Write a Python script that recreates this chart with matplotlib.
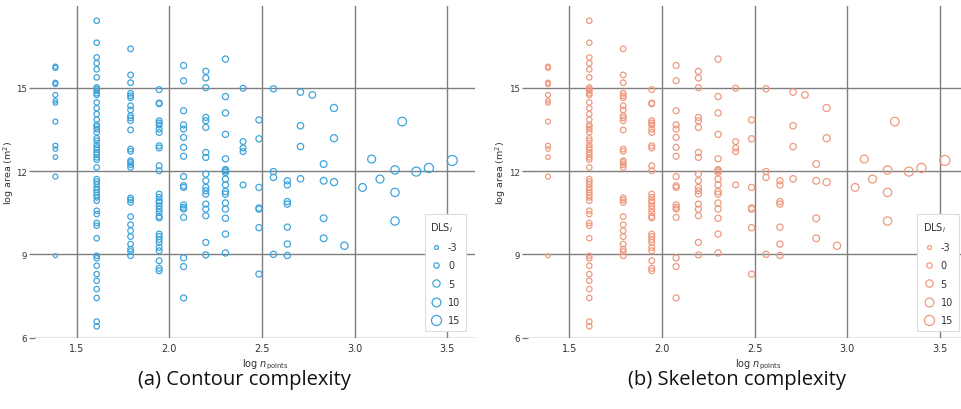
import numpy as np
import matplotlib
matplotlib.use("Agg")
import matplotlib.pyplot as plt
from matplotlib.lines import Line2D

# ---- data -------------------------------------------------------------
col_x = [1.385, 1.608, 1.791, 1.945, 2.077, 2.197, 2.303, 2.398, 2.484, 2.562,
         2.637, 2.708, 2.772, 2.833, 2.889, 2.945, 3.043, 3.092, 3.137, 3.218,
         3.257, 3.333, 3.401, 3.527]

col_area = [
    [15.76, 15.71, 15.18, 15.13, 14.74, 14.53, 14.45, 13.78, 12.91, 12.79, 12.50, 11.80, 8.95],
    [17.41, 16.62, 16.09, 15.88, 15.66, 15.37, 15.01, 14.95, 14.89, 14.80, 14.74, 14.47, 14.26,
     14.05, 13.85, 13.66, 13.60, 13.51, 13.39, 13.18, 13.09, 12.95, 12.85, 12.77, 12.67, 12.59,
     12.49, 12.41, 12.13, 11.71, 11.62, 11.53, 11.41, 11.32, 11.23, 11.14, 11.05, 10.93, 10.57,
     10.45, 10.13, 10.03, 9.58, 8.95, 8.86, 8.59, 8.29, 8.05, 7.75, 7.43, 6.58, 6.41],
    [16.40, 15.46, 15.18, 14.80, 14.71, 14.64, 14.35, 14.20, 13.99, 13.91, 13.81, 13.48, 12.79,
     12.71, 12.37, 12.31, 12.23, 12.13, 11.03, 10.96, 10.87, 10.36, 10.07, 9.85, 9.64, 9.37,
     9.19, 9.10, 8.95],
    [14.93, 14.45, 14.42, 13.81, 13.73, 13.66, 13.51, 13.39, 12.91, 12.83, 12.19, 12.01, 11.17,
     11.05, 10.93, 10.87, 10.75, 10.63, 10.51, 10.37, 10.31, 9.73, 9.64, 9.53, 9.43, 9.25, 9.13,
     8.77, 8.50, 8.41],
    [15.80, 15.25, 14.17, 13.66, 13.51, 13.21, 12.85, 12.53, 11.80, 11.47, 11.41, 10.78, 10.69,
     10.63, 10.33, 8.87, 8.56, 7.43],
    [15.59, 15.35, 15.00, 13.93, 13.81, 13.57, 12.67, 12.49, 11.89, 11.65, 11.41, 11.29, 11.17,
     10.81, 10.63, 10.39, 9.43, 8.98],
    [16.03, 14.68, 14.09, 13.32, 12.44, 12.05, 12.01, 11.95, 11.71, 11.50, 11.26, 11.17, 10.85,
     10.63, 10.30, 9.73, 9.05],
    [14.98, 13.06, 12.83, 12.70, 11.50],
    [13.84, 13.16, 11.41, 10.67, 10.63, 9.96, 8.29],
    [14.96, 11.98, 11.77, 9.00],
    [11.65, 11.50, 10.90, 10.81, 9.98, 9.37, 8.96],
    [14.84, 13.63, 12.88, 11.72],
    [14.74],
    [12.25, 11.65, 10.30, 9.58],
    [14.27, 13.18, 11.60],
    [9.31],
    [11.41],
    [12.43],
    [11.71],
    [12.04, 11.23, 10.20],
    [13.78],
    [11.98],
    [12.11],
    [12.38],
]

col_dls = [
    [-1, -1, -1, -1, -1, -2, -2, -1, -1, -2, -2, -1, -3],
    [0] * 52,
    [0.5] * 29,
    [1] * 30,
    [1.5] * 18,
    [1.5] * 18,
    [2] * 17,
    [1, 1, 1, 1, 1],
    [2, 2, 2, 2, 2, 2, 2],
    [2, 2, 2, 2],
    [2, 2, 2, 2, 2, 2, 2],
    [2.5, 2.5, 2.5, 2.5],
    [3],
    [3.5, 3.5, 3.5, 3.5],
    [4.5, 4.5, 4.5],
    [5],
    [6.5],
    [7],
    [7],
    [8.5, 8.5, 8.5],
    [9.5],
    [11],
    [11.5],
    [15],
]

legend_dls = [-3, 0, 5, 10, 15]
panel_titles = ["(a) Contour complexity", "(b) Skeleton complexity"]
panel_colors = ["#3fa4db", "#ee9a80"]

# ---- helpers ----------------------------------------------------------
DPI = 100


def dls_to_s(d):
    d = np.asarray(d, dtype=float)
    dpx = np.sqrt(36 + 5.19 * d) - 0.6
    return (dpx * 72.0 / DPI) ** 2


xs = np.concatenate([[x] * len(a) for x, a in zip(col_x, col_area)])
ys = np.concatenate([np.array(a, float) for a in col_area])
ds = np.concatenate([np.array(d, float) for d in col_dls])

W, H = 962, 410
fig = plt.figure(figsize=(W / DPI, H / DPI), dpi=DPI)

grid_col = "#7f7f7f"
txt_col = "#333333"

offsets = [0, 492.6]
for k in range(2):
    left = 35 + offsets[k]
    right = 475 + offsets[k]
    bottom = H - 338.7
    top = H - 7.3
    ax = fig.add_axes([left / W, bottom / H, (right - left) / W, (top - bottom) / H])
    ax.set_xlim(1.275, 3.65)
    ax.set_ylim(6, 17.93)
    for s in ax.spines.values():
        s.set_visible(False)
    ax.set_xticks([1.5, 2.0, 2.5, 3.0, 3.5])
    ax.set_xticklabels(["1.5", "2.0", "2.5", "3.0", "3.5"])
    ax.set_yticks([6, 9, 12, 15])
    ax.set_yticklabels(["6", "9", "12", "15"])
    ax.grid(True, color=grid_col, linewidth=1.0)
    ax.set_axisbelow(True)
    ax.tick_params(axis="x", length=0, pad=4, labelsize=7, labelcolor=txt_col)
    ax.tick_params(axis="y", length=4.5, width=1.0, color=grid_col, pad=1.2,
                   labelsize=6.2, labelcolor=txt_col)

    col = panel_colors[k]
    ax.scatter(xs, ys, s=dls_to_s(ds), facecolors="none", edgecolors=col,
               linewidths=0.9, zorder=3)

    ax.set_xlabel(r"log $n_{\mathrm{points}}$", fontsize=7, color=txt_col, labelpad=1)
    ax.xaxis.set_label_coords(0.524, -0.056)
    ax.set_ylabel(r"log area (m$^2$)", fontsize=6.8, color=txt_col)
    ax.yaxis.label.set_va("center")
    ax.yaxis.set_label_coords(-0.06, 0.5)

    handles = [Line2D([], [], linestyle="none", marker="o",
                      markersize=np.sqrt(float(dls_to_s(v))),
                      markerfacecolor="none", markeredgecolor=col,
                      markeredgewidth=0.9) for v in legend_dls]
    leg = ax.legend(handles, [str(v) for v in legend_dls], title=r"DLS$_i$",
                    loc="lower right", bbox_to_anchor=(0.98, 0.02),
                    borderaxespad=0.0,
                    fontsize=7, title_fontsize=7, frameon=True, fancybox=False,
                    edgecolor="#dddddd", framealpha=1, labelspacing=0.85,
                    handletextpad=0.6, borderpad=0.6, handlelength=1.2,
                    alignment="left")
    leg.get_frame().set_linewidth(0.8)
    for t in leg.get_texts():
        t.set_color(txt_col)
    leg.get_title().set_color(txt_col)

    fig.text((244 + offsets[k]) / W, 1 - 380 / H, panel_titles[k],
             ha="center", va="center", fontsize=14.5, family="Open Sans",
             color="#111111")

fig.savefig("out.png", dpi=DPI)
